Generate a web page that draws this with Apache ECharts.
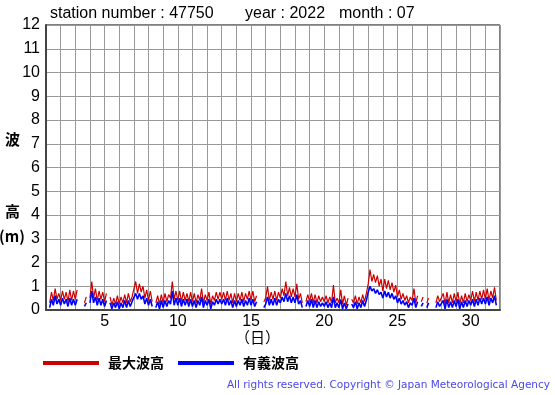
<!DOCTYPE html>
<html><head><meta charset="utf-8">
<script src="https://cdn.jsdelivr.net/npm/echarts@6/dist/echarts.min.js"></script>
<style>html,body{margin:0;padding:0;background:#fff}#c{width:555px;height:395px}</style>
</head><body><div id="c"></div>
<script>
// 3-hourly samples per day (slots 0,3,6,9,12,15,18,21 h), July 2022, station 47750
const days = [1,2,3,4,5,6,7,8,9,10,11,12,13,14,15,16,17,18,19,20,21,22,23,24,25,26,27,28,29,30,31];
const slotsPerDay = 8;
const maxWave = [
  null,null,0.3,0.75,0.4,0.9,0.45,0.7,
  0.4,0.8,0.45,0.75,0.35,0.85,0.4,0.8,
  0.45,0.85,null,0.5,null,0.3,0.55,null,
  0.5,1.2,0.5,0.9,0.4,0.8,0.45,0.75,
  0.35,0.7,null,0.55,0.2,0.5,0.25,0.6,
  0.25,0.55,0.3,0.65,0.3,0.7,0.35,0.55,
  0.6,1.2,0.7,1.1,0.75,1.0,0.5,0.85,
  0.4,0.8,0.35,null,0.3,0.6,0.25,0.65,
  0.3,0.7,0.35,0.65,0.5,1.2,0.45,0.8,
  0.4,0.8,0.35,0.75,0.4,0.7,0.35,0.75,
  0.35,0.7,0.3,0.65,0.4,0.9,0.3,0.65,
  0.4,0.75,0.25,0.6,0.4,0.75,0.45,0.75,
  0.45,0.75,0.4,0.8,0.4,0.7,0.3,0.7,
  0.35,0.7,0.4,0.75,0.35,0.7,0.45,0.8,
  0.4,0.8,0.35,0.6,null,0.45,null,0.35,
  0.5,1.0,0.4,0.75,0.45,0.8,0.4,0.75,
  0.5,0.9,0.6,1.2,0.6,0.95,0.55,0.9,
  0.55,1.1,0.45,0.7,0.3,null,0.35,0.65,
  0.35,0.7,0.3,0.65,0.3,0.6,0.35,0.55,
  0.35,0.6,0.3,0.55,0.3,1.05,0.3,0.5,
  0.3,0.85,0.25,0.6,0.2,0.5,null,0.45,
  0.3,0.6,0.25,0.55,0.3,0.65,0.35,0.7,
  1.1,1.7,1.2,1.5,1.15,1.45,1.0,1.3,
  0.8,1.3,0.9,1.25,0.85,1.15,0.75,1.05,
  0.55,0.85,0.45,0.7,0.4,0.6,0.3,0.55,
  0.4,0.9,0.3,0.6,null,0.35,0.55,null,
  0.3,0.5,null,0.55,null,0.3,0.6,0.35,
  0.3,0.7,0.25,0.75,0.3,0.65,0.3,0.7,
  0.35,0.75,0.25,0.6,0.3,0.7,0.35,0.65,
  0.4,0.8,0.35,0.75,0.4,0.8,0.45,0.85,
  0.45,0.9,0.4,0.8,0.5,0.95,0.4,null
];
const sigWave = [
  null,null,0.1,0.45,0.2,0.6,0.25,0.45,
  0.2,0.5,0.25,0.45,0.15,0.5,0.2,0.45,
  0.2,0.45,null,0.3,null,0.15,0.3,null,
  0.3,0.8,0.3,0.55,0.2,0.5,0.2,0.45,
  0.15,0.4,null,0.3,0.05,0.3,0.1,0.35,
  0.05,0.3,0.1,0.4,0.1,0.4,0.15,0.35,
  0.35,0.7,0.45,0.7,0.45,0.6,0.25,0.5,
  0.2,0.45,0.15,null,0.1,0.35,0.05,0.4,
  0.1,0.4,0.15,0.4,0.25,0.8,0.2,0.5,
  0.2,0.5,0.15,0.45,0.2,0.45,0.15,0.45,
  0.15,0.4,0.1,0.4,0.2,0.55,0.1,0.4,
  0.2,0.45,0.05,0.35,0.2,0.45,0.25,0.45,
  0.25,0.45,0.2,0.5,0.2,0.4,0.1,0.4,
  0.15,0.4,0.2,0.45,0.15,0.4,0.2,0.5,
  0.2,0.45,0.15,0.35,null,0.2,null,0.1,
  0.25,0.55,0.2,0.45,0.2,0.5,0.2,0.45,
  0.3,0.55,0.35,0.7,0.35,0.6,0.3,0.55,
  0.3,0.65,0.25,0.4,0.1,null,0.15,0.4,
  0.15,0.45,0.1,0.4,0.1,0.35,0.15,0.3,
  0.15,0.35,0.1,0.3,0.1,0.55,0.1,0.3,
  0.1,0.45,0.05,0.3,0.05,0.25,null,0.25,
  0.1,0.35,0.05,0.3,0.1,0.4,0.15,0.4,
  0.75,1.0,0.8,0.9,0.7,0.85,0.65,0.75,
  0.5,0.8,0.55,0.75,0.5,0.7,0.45,0.6,
  0.3,0.5,0.25,0.4,0.2,0.35,0.1,0.3,
  0.2,0.5,0.1,0.35,null,0.15,0.3,null,
  0.1,0.3,null,0.3,null,0.1,0.35,0.15,
  0.1,0.4,0.05,0.45,0.1,0.35,0.1,0.4,
  0.15,0.45,0.05,0.35,0.1,0.4,0.15,0.4,
  0.2,0.45,0.15,0.45,0.2,0.5,0.25,0.5,
  0.25,0.55,0.2,0.5,0.3,0.6,0.2,null
];
const xTickLabels = [5,10,15,20,25,30];
const yTickLabels = [0,1,2,3,4,5,6,7,8,9,10,11,12];
const seriesNames = ['最大波高','有義波高'];

function pairs(vals){
  const out=[];
  days.forEach((d,di)=>{ for(let s=0;s<slotsPerDay;s++){ const v=vals[di*slotsPerDay+s]; out.push([d+s/slotsPerDay, v==null?null:v]); } });
  return out;
}
const chart = echarts.init(document.getElementById('c'), null, {renderer:'canvas'});
const lf = 'Liberation Sans, Arial, sans-serif';
const jf = 'Noto Sans CJK JP, sans-serif';
chart.setOption({
  animation:false,
  backgroundColor:'#fff',
  grid:{left:46,right:55,top:25,bottom:85,show:true,borderColor:'#000',borderWidth:1},
  xAxis:{type:'value',min:1,max:32,interval:1,
    axisLine:{show:true,onZero:false,lineStyle:{color:'#444',width:2}},
    axisTick:{show:false},
    splitLine:{show:true,lineStyle:{color:'#999',width:1}},
    axisLabel:{margin:4,fontFamily:lf,fontSize:16,color:'#000',
      formatter:v=>xTickLabels.indexOf(v)>=0?String(v):''}},
  yAxis:{type:'value',min:0,max:12,interval:1,
    axisLine:{show:true,lineStyle:{color:'#444',width:2}},
    axisTick:{show:false},
    splitLine:{show:true,lineStyle:{color:'#999',width:1}},
    axisLabel:{margin:6,fontFamily:lf,fontSize:16,color:'#000',
      formatter:v=>yTickLabels.indexOf(v)>=0?String(v):''}},
  legend:{left:38,top:351,itemWidth:56,itemHeight:4,itemGap:14,icon:'rect',
    textStyle:{fontFamily:jf,fontWeight:'bold',fontSize:14,color:'#000',padding:[0,0,0,4]},
    data:seriesNames},
  series:[
    {name:seriesNames[0],type:'line',data:pairs(maxWave),showSymbol:false,connectNulls:false,
      lineStyle:{color:'#cc0000',width:1.2},itemStyle:{color:'#cc0000'}},
    {name:seriesNames[1],type:'line',data:pairs(sigWave),showSymbol:false,connectNulls:false,
      lineStyle:{color:'#0000ff',width:1.6},itemStyle:{color:'#0000ff'}}
  ],
  graphic:[
    {type:'text',left:50,top:6,style:{text:'station number : 47750',font:'16px '+lf,fill:'#000'}},
    {type:'text',left:245,top:6,style:{text:'year : 2022',font:'16px '+lf,fill:'#000'}},
    {type:'text',left:339,top:6,style:{text:'month : 07',font:'16px '+lf,fill:'#000'}},
    {type:'text',left:5,top:132,style:{text:'波',font:'bold 15px '+jf,fill:'#000'}},
    {type:'text',left:5,top:204,style:{text:'高',font:'bold 15px '+jf,fill:'#000'}},
    {type:'text',left:-1,top:229,style:{text:'(m)',font:'bold 15px '+jf,fill:'#000'}},
    {type:'text',left:235,top:330,style:{text:'（日）',font:'15px '+jf,fill:'#000'}},
    {type:'text',right:5,top:380,style:{text:'All rights reserved. Copyright © Japan Meteorological Agency',font:'10.5px DejaVu Sans, sans-serif',fill:'#4848e8'}}
  ]
});
</script></body></html>
